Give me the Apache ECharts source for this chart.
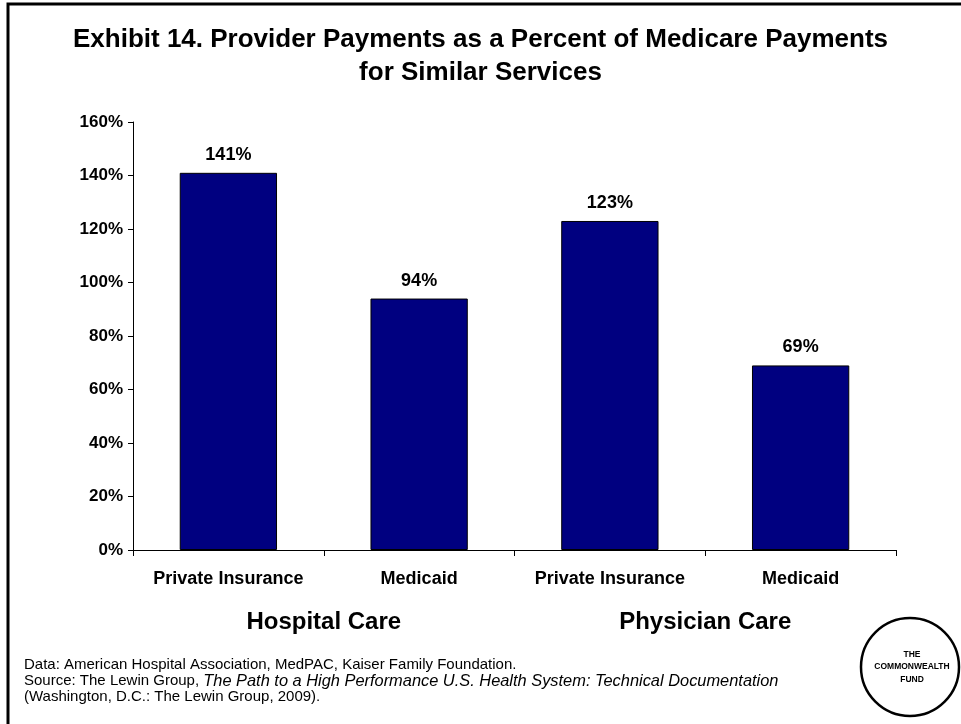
<!DOCTYPE html>
<html>
<head>
<meta charset="utf-8">
<script src="https://cdn.jsdelivr.net/npm/echarts@6/dist/echarts.min.js"></script>
<style>
  html, body { margin: 0; padding: 0; background: #fff; }
  #chart { width: 961px; height: 724px; }
</style>
</head>
<body>
<div id="chart"></div>
<script>
// Payments relative to Medicare rates, by payer within each care setting
const payerCategories = ['Private Insurance', 'Medicaid', 'Private Insurance', 'Medicaid'];
const careGroups = ['Hospital Care', 'Physician Care'];
const paymentPercent = [141, 94, 123, 69];
const yTicks = { min: 0, max: 160, interval: 20 };

const titleLines = [
  'Exhibit 14. Provider Payments as a Percent of Medicare Payments',
  'for Similar Services'
];
const footerLines = [
  'Data: American Hospital Association, MedPAC, Kaiser Family Foundation.',
  'Source: The Lewin Group, {i|The Path to a High Performance U.S. Health System: Technical Documentation}',
  '(Washington, D.C.: The Lewin Group, 2009).'
];

const FONT = '"Liberation Sans", Arial, Helvetica, sans-serif';
const chart = echarts.init(document.getElementById('chart'), null, { renderer: 'canvas' });

chart.setOption({
  backgroundColor: '#ffffff',
  animation: false,
  textStyle: { fontFamily: FONT },
  title: {
    text: titleLines.join('\n'),
    left: 'center',
    top: 18,
    textStyle: { fontFamily: FONT, fontSize: 26, fontWeight: 'bold', color: '#000', lineHeight: 33 }
  },
  grid: { left: 133, right: 65, top: 122, bottom: 174, containLabel: false },
  xAxis: [
    {
      type: 'category',
      data: payerCategories,
      axisLine: { lineStyle: { color: '#000', width: 1 } },
      axisTick: { show: true, interval: 0, alignWithLabel: false, length: 6, lineStyle: { color: '#000' } },
      axisLabel: { interval: 0, color: '#000', fontFamily: FONT, fontSize: 18, fontWeight: 'bold', margin: 20 }
    },
    {
      type: 'category',
      data: careGroups,
      position: 'bottom',
      offset: 52,
      axisLine: { show: false },
      axisTick: { show: false },
      axisLabel: { interval: 0, color: '#000', fontFamily: FONT, fontSize: 24, fontWeight: 'bold', margin: 8 }
    }
  ],
  yAxis: {
    type: 'value',
    min: yTicks.min,
    max: yTicks.max,
    interval: yTicks.interval,
    axisLine: { show: true, lineStyle: { color: '#000', width: 1 } },
    axisTick: { show: true, length: 5, lineStyle: { color: '#000' } },
    splitLine: { show: false },
    axisLabel: { color: '#000', fontFamily: FONT, fontSize: 17, fontWeight: 'bold', margin: 10, formatter: '{value}%' }
  },
  series: [{
    type: 'bar',
    xAxisIndex: 0,
    data: paymentPercent,
    barWidth: '51%',
    itemStyle: { color: '#000080', borderColor: '#000', borderWidth: 1 },
    label: {
      show: true,
      position: 'top',
      distance: 9,
      formatter: '{c}%',
      color: '#000',
      fontFamily: FONT,
      fontSize: 18,
      fontWeight: 'bold'
    }
  }],
  graphic: [
    {
      type: 'rect',
      shape: { x: 8, y: 4, width: 1000, height: 800 },
      style: { fill: 'none', stroke: '#000', lineWidth: 3 },
      silent: true
    },
    {
      type: 'text',
      left: 24,
      top: 657,
      style: {
        text: footerLines.join('\n'),
        font: '15px ' + FONT,
        fill: '#000',
        lineHeight: 16,
        rich: { i: { fontStyle: 'italic', fontSize: 16.4, fontFamily: FONT, fill: '#000', lineHeight: 16 } }
      }
    },
    {
      type: 'circle',
      shape: { cx: 910, cy: 667, r: 49 },
      style: { fill: '#fff', stroke: '#000', lineWidth: 2.5 }
    },
    {
      type: 'text',
      x: 912,
      y: 667,
      style: {
        text: 'THE\nCOMMONWEALTH\nFUND',
        font: 'bold 8.5px ' + FONT,
        fill: '#000',
        align: 'center',
        verticalAlign: 'middle',
        lineHeight: 12.5
      }
    }
  ]
});
</script>
</body>
</html>
